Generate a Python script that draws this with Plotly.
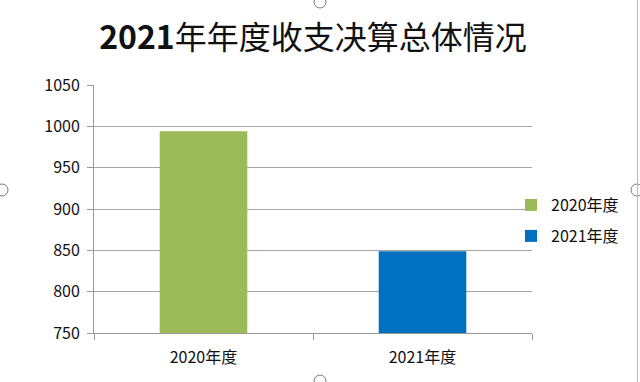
import plotly.graph_objects as go

categories = ["2020年度", "2021年度"]
values = [994, 849]
colors = ["#9BBB59", "#0070C0"]
title_year = "2021"
title_rest = "年年度收支决算总体情况"
y_ticks = [750, 800, 850, 900, 950, 1000, 1050]

W, H = 640, 382
ml, mr, mt, mb = 94, 108, 85, 49

fig = go.Figure()
legend_names = ["legend", "legend2"]
for i, (cat, val, col) in enumerate(zip(categories, values, colors)):
    fig.add_trace(go.Bar(
        x=[cat], y=[val], name=cat, marker=dict(color=col, line=dict(width=0)),
        width=0.4, legend=legend_names[i], showlegend=True,
    ))

font_family = "Noto Sans CJK SC, Noto Sans, sans-serif"
txt_col = "#111"
leg_common = dict(
    xanchor="left", yanchor="middle", bgcolor="rgba(0,0,0,0)",
    font=dict(family=font_family, size=16, color=txt_col),
    itemwidth=30, tracegroupgap=0,
)
pw = W - ml - mr
ph = H - mt - mb
def px_to_paper_x(px):
    return (px - ml) / pw
def px_to_paper_y(py):
    return 1 - (py - mt) / ph

fig.update_layout(
    width=W, height=H,
    margin=dict(l=ml, r=mr, t=mt, b=mb, pad=0, autoexpand=False),
    paper_bgcolor="white", plot_bgcolor="white",
    barmode="overlay",
    title=dict(text=f"<b>{title_year}</b>{title_rest}", x=0.5, xref="paper", xanchor="center",
               y=1 - 38 / H, yanchor="middle",
               font=dict(family=font_family, size=32, color="#111")),
    legend=dict(x=px_to_paper_x(511), y=px_to_paper_y(205), **leg_common),
    legend2=dict(x=px_to_paper_x(511), y=px_to_paper_y(236), **leg_common),
    xaxis=dict(
        type="category", showgrid=False, showline=True, linecolor="#999", linewidth=1,
        ticks="outside", tickson="boundaries", ticklen=6, tickcolor="#999",
        tickfont=dict(family=font_family, size=16, color=txt_col),
        ticklabelstandoff=10,
    ),
    yaxis=dict(
        range=[750, 1050], tickvals=y_ticks, showgrid=True, gridcolor="#A6A6A6", gridwidth=1,
        showline=True, linecolor="#999", linewidth=1, ticks="outside", ticklen=6,
        tickcolor="#999", tickfont=dict(family=font_family, size=16, color=txt_col),
        zeroline=False, ticklabelstandoff=4,
    ),
)

# selection handles of the chart frame (decoration)
handles = [(320, 2), (2, 190), (637, 190), (320, 381)]
for hx, hy in handles:
    fig.add_shape(type="circle", xref="paper", yref="paper",
                  x0=(hx - 6 - ml) / pw, x1=(hx + 6 - ml) / pw,
                  y0=1 - (hy + 6 - mt) / ph, y1=1 - (hy - 6 - mt) / ph,
                  line=dict(color="#777", width=1), fillcolor="white", layer="above")
fig.add_shape(type="line", xref="paper", yref="paper",
              x0=(637.5 - ml) / pw, x1=(637.5 - ml) / pw,
              y0=1 - (0 - mt) / ph, y1=1 - (382 - mt) / ph,
              line=dict(color="#BBB", width=1))

fig.write_html("out.html", config={"displayModeBar": False},
               post_script="document.body.style.margin='0';document.body.style.padding='0';document.body.style.overflow='hidden';")
